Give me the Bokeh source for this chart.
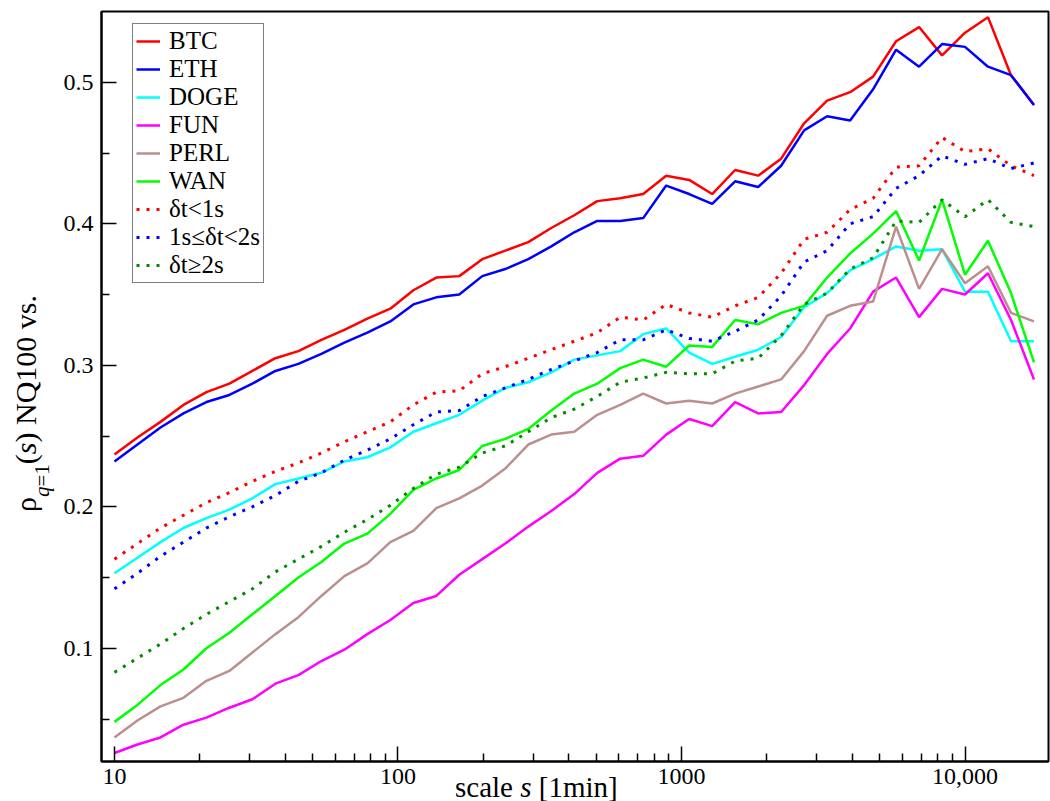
import math
from bokeh.plotting import figure
from bokeh.layouts import column
from bokeh.models import Range1d, FixedTicker, Legend, LegendItem, Div
from bokeh.embed import file_html
from bokeh.resources import INLINE

# ---------------- data ----------------
scales = [10, 12.05, 14.53, 17.51, 21.10, 25.43, 30.65, 36.94, 44.53, 53.67,
          64.69, 77.97, 93.97, 113.3, 136.5, 164.5, 198.3, 239.0, 288.1, 347.2,
          418.5, 504.4, 607.9, 732.7, 883.1, 1064, 1283, 1546, 1864, 2246,
          2707, 3263, 3933, 4740, 5713, 6886, 8299, 10000, 12050, 14530, 17510]

btc = [0.237, 0.249, 0.260, 0.272, 0.281, 0.287, 0.296, 0.305, 0.310, 0.318,
       0.325, 0.333, 0.340, 0.353, 0.362, 0.363, 0.375, 0.381, 0.387, 0.397,
       0.406, 0.416, 0.418, 0.421, 0.434, 0.431, 0.421, 0.438, 0.434, 0.446,
       0.471, 0.487, 0.493, 0.504, 0.529, 0.539, 0.519, 0.535, 0.546, 0.505, 0.484]
eth = [0.232, 0.244, 0.256, 0.266, 0.274, 0.279, 0.287, 0.296, 0.301, 0.308,
       0.316, 0.323, 0.331, 0.343, 0.348, 0.350, 0.363, 0.368, 0.375, 0.384,
       0.394, 0.402, 0.402, 0.404, 0.427, 0.421, 0.414, 0.430, 0.426, 0.441,
       0.466, 0.476, 0.473, 0.495, 0.523, 0.511, 0.527, 0.525, 0.511, 0.505, 0.484]
doge = [0.153, 0.164, 0.175, 0.185, 0.192, 0.198, 0.206, 0.216, 0.220, 0.224,
        0.232, 0.235, 0.242, 0.253, 0.259, 0.265, 0.275, 0.284, 0.288, 0.295,
        0.304, 0.307, 0.310, 0.322, 0.326, 0.309, 0.301, 0.306, 0.311, 0.320,
        0.341, 0.351, 0.367, 0.375, 0.384, 0.381, 0.382, 0.352, 0.352, 0.317, 0.317]
fun = [0.026, 0.032, 0.037, 0.046, 0.051, 0.058, 0.064, 0.075, 0.081, 0.091,
       0.099, 0.110, 0.120, 0.132, 0.137, 0.152, 0.163, 0.174, 0.186, 0.197,
       0.209, 0.224, 0.234, 0.236, 0.251, 0.262, 0.257, 0.274, 0.266, 0.267,
       0.286, 0.308, 0.326, 0.352, 0.362, 0.334, 0.354, 0.350, 0.365, 0.332, 0.290]
perl = [0.037, 0.049, 0.059, 0.065, 0.077, 0.084, 0.097, 0.110, 0.122, 0.137,
        0.151, 0.160, 0.175, 0.183, 0.199, 0.206, 0.215, 0.227, 0.244, 0.251,
        0.253, 0.265, 0.272, 0.280, 0.273, 0.275, 0.273, 0.280, 0.285, 0.290,
        0.310, 0.335, 0.342, 0.345, 0.398, 0.354, 0.382, 0.358, 0.370, 0.337, 0.331]
wan = [0.048, 0.060, 0.074, 0.085, 0.100, 0.111, 0.124, 0.137, 0.150, 0.161,
       0.174, 0.181, 0.195, 0.212, 0.220, 0.226, 0.243, 0.248, 0.255, 0.268,
       0.280, 0.287, 0.298, 0.304, 0.299, 0.314, 0.313, 0.332, 0.329, 0.337,
       0.342, 0.362, 0.379, 0.393, 0.409, 0.374, 0.417, 0.364, 0.388, 0.351, 0.302]
dt_lt1 = [0.163, 0.174, 0.185, 0.194, 0.203, 0.210, 0.218, 0.225, 0.231, 0.238,
          0.246, 0.253, 0.260, 0.272, 0.281, 0.282, 0.294, 0.299, 0.305, 0.311,
          0.317, 0.323, 0.334, 0.332, 0.343, 0.337, 0.334, 0.342, 0.348, 0.365,
          0.389, 0.394, 0.410, 0.418, 0.440, 0.441, 0.461, 0.451, 0.453, 0.441, 0.434]
dt_1to2 = [0.142, 0.153, 0.165, 0.175, 0.185, 0.193, 0.200, 0.208, 0.218, 0.224,
           0.233, 0.240, 0.248, 0.258, 0.267, 0.268, 0.278, 0.284, 0.290, 0.297,
           0.303, 0.309, 0.318, 0.318, 0.325, 0.319, 0.317, 0.324, 0.332, 0.349,
           0.373, 0.381, 0.400, 0.405, 0.425, 0.434, 0.448, 0.442, 0.446, 0.439, 0.443]
dt_ge2 = [0.083, 0.093, 0.103, 0.114, 0.124, 0.133, 0.142, 0.154, 0.163, 0.172,
          0.182, 0.191, 0.201, 0.213, 0.223, 0.228, 0.238, 0.243, 0.253, 0.263,
          0.269, 0.278, 0.288, 0.291, 0.295, 0.294, 0.294, 0.303, 0.305, 0.321,
          0.343, 0.351, 0.368, 0.376, 0.402, 0.401, 0.417, 0.405, 0.417, 0.401, 0.398]

series_names = ["BTC", "ETH", "DOGE", "FUN", "PERL", "WAN",
                "\u03b4t<1s", "1s\u2264\u03b4t<2s", "\u03b4t\u22652s"]
series_values = [btc, eth, doge, fun, perl, wan, dt_lt1, dt_1to2, dt_ge2]
series_colors = ["#ff0000", "#0000ff", "#00ffff", "#ff00ff", "#bc8f8f", "#00ff00",
                 "#ff0000", "#0000ff", "#008b00"]
series_dotted = [False, False, False, False, False, False, True, True, True]

x_major = [10, 100, 1000, 10000]
x_tick_labels = ["10", "100", "1000", "10,000"]
x_minor = [10 ** e * m for e in (1, 2, 3) for m in range(2, 10)]
y_major = [0.1, 0.2, 0.3, 0.4, 0.5]
y_minor = [0.05, 0.15, 0.25, 0.35, 0.45]

x_title_html = "scale <i>s</i> [1min]"
y_title_html = ("\u03c1<span style=\"font-size:21px; vertical-align:-13px\"><i>q</i>=1</span>"
                "(<i>s</i>) NQ100 vs.")

# ---------------- figure ----------------
X0, X1 = 9.0, 19700.0
Y0, Y1 = 0.02, 0.55
W, H = 1050, 800
BL, BR, BT, BB = 101, 2, 11, 39
FONT = "Times New Roman"
CSS_FONT = "'Times New Roman', 'Liberation Serif', serif"

p = figure(width=W, height=H, x_axis_type="log",
           x_range=Range1d(X0, X1), y_range=Range1d(Y0, Y1),
           output_backend="svg", toolbar_location=None,
           min_border_left=BL, min_border_right=BR,
           min_border_top=BT, min_border_bottom=BB)

p.background_fill_color = "white"
p.border_fill_color = "white"
p.outline_line_color = "black"
p.outline_line_width = 2
p.outline_line_alpha = 1
p.xgrid.visible = False
p.ygrid.visible = False

p.xaxis.ticker = FixedTicker(ticks=x_major, minor_ticks=x_minor)
p.xaxis.major_label_overrides = {t: l for t, l in zip(x_major, x_tick_labels)}
p.yaxis.ticker = FixedTicker(ticks=y_major, minor_ticks=y_minor)

for ax in (p.xaxis[0], p.yaxis[0]):
    ax.axis_line_color = "black"
    ax.axis_line_width = 2
    ax.major_tick_in = 15
    ax.major_tick_out = 0
    ax.minor_tick_in = 8
    ax.minor_tick_out = 0
    ax.major_tick_line_width = 1.5
    ax.minor_tick_line_width = 1.5
    ax.major_tick_line_color = "black"
    ax.minor_tick_line_color = "black"
    ax.major_label_text_font = FONT
    ax.major_label_text_font_size = "24px"
    ax.major_label_text_color = "black"
p.xaxis.major_label_standoff = 7
p.yaxis.major_label_standoff = 8

renderers = []
for name, vals, col, dotted in zip(series_names, series_values, series_colors, series_dotted):
    if dotted:
        r = p.line(scales, vals, line_color=col, line_width=3, line_dash="3 7")
    else:
        r = p.line(scales, vals, line_color=col, line_width=2.5)
    renderers.append(r)

legend = Legend(items=[LegendItem(label=n, renderers=[r]) for n, r in zip(series_names, renderers)],
                location=(31, 478), orientation="vertical")
legend.label_text_font = FONT
legend.label_text_font_size = "25px"
legend.label_text_line_height = 0.9
legend.label_text_color = "black"
legend.glyph_width = 24
legend.glyph_height = 24
legend.label_height = 24
legend.label_standoff = 9
legend.spacing = 0
legend.padding = 3
legend.margin = 0
legend.border_line_color = "black"
legend.border_line_width = 1.5
legend.background_fill_color = "white"
legend.background_fill_alpha = 1
p.add_layout(legend)

# ---------------- axis titles as HTML text overlaid on the figure's margins ----------------
DX, DY = 4, 15          # observed offset of the Div content
div_top = H
xt_left, xt_top = 454 - DX, 771 - div_top - DY
yt_left, yt_top = 6, 510 - div_top - DY
html = (
    f'<div style="position:relative; width:0; height:0; font-family:{CSS_FONT}; color:black;">'
    f'<span style="position:absolute; left:{xt_left}px; top:{xt_top}px; font-size:29px; '
    f'line-height:29px; white-space:nowrap;">{x_title_html}</span>'
    f'<span style="position:absolute; left:{yt_left}px; top:{yt_top}px; font-size:30px; '
    f'line-height:30px; white-space:nowrap; transform:rotate(-90deg); transform-origin:0 0;">'
    f'{y_title_html}</span>'
    '</div>'
)
titles = Div(text=html, width=W, height=1, styles={"overflow": "visible"})

layout = column(p, titles, spacing=0)
open("out.html", "w").write(file_html(layout, INLINE))
